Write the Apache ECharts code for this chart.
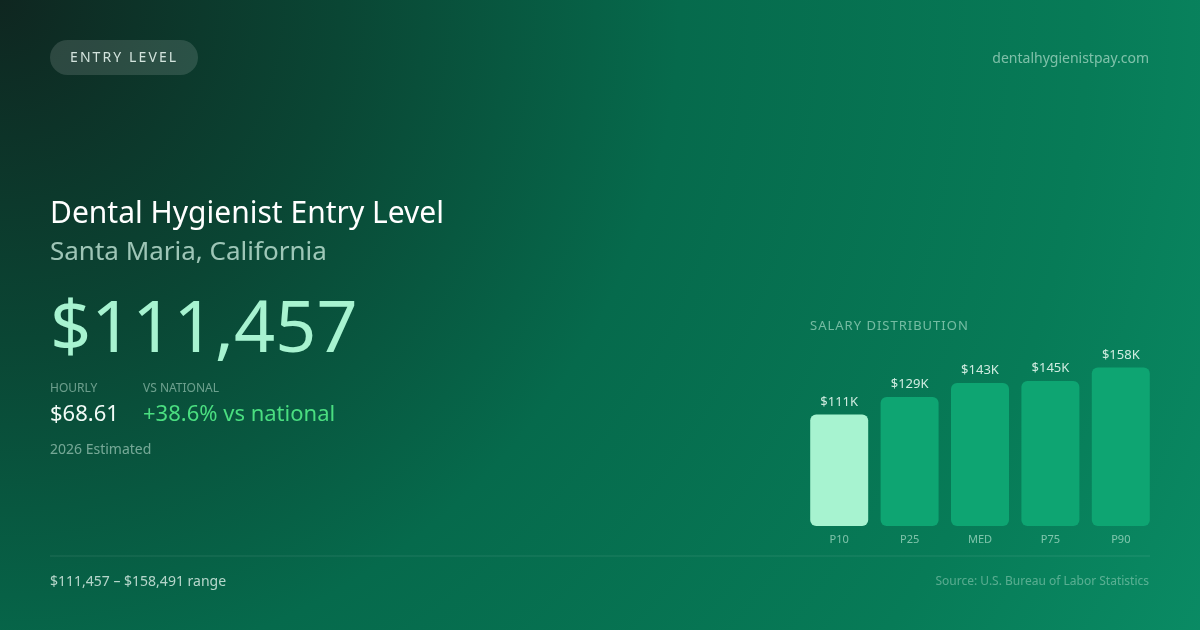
<!DOCTYPE html>
<html>
<head>
<meta charset="utf-8">
<script src="https://cdn.jsdelivr.net/npm/echarts@6/dist/echarts.min.js"></script>
<style>
html,body{margin:0;padding:0;background:#0a4d38;}
#chart{width:1200px;height:630px;}
</style>
</head>
<body>
<div id="chart"></div>
<script>
// ---- data ----
var categories = ['P10', 'P25', 'MED', 'P75', 'P90'];
var salaries = [111457, 129000, 143000, 145000, 158491];
var highlightIndex = 0;

var FONT = '"Noto Sans", "Open Sans", sans-serif';

var measureCtx = document.createElement('canvas').getContext('2d');
function spacedText(str, x, y, size, spacing, color, weight) {
  measureCtx.font = (weight || 'normal') + ' ' + size + 'px ' + FONT;
  var children = [];
  var cx = x;
  for (var i = 0; i < str.length; i++) {
    var ch = str[i];
    children.push({
      type: 'text', x: cx, y: y,
      style: { text: ch, fill: color, font: (weight || 'normal') + ' ' + size + 'px ' + FONT, textVerticalAlign: 'middle', textAlign: 'left' }
    });
    cx += measureCtx.measureText(ch).width + spacing;
  }
  return { type: 'group', children: children };
}
function txt(str, x, y, size, color, align, weight) {
  return {
    type: 'text', x: x, y: y,
    style: { text: str, fill: color, font: (weight || 'normal') + ' ' + size + 'px ' + FONT, textAlign: align || 'left', textVerticalAlign: 'middle' }
  };
}

var chart = echarts.init(document.getElementById('chart'), null, { renderer: 'canvas' });

var option = {
  animation: false,
  backgroundColor: 'transparent',
  grid: { left: 804, right: 44, top: 326, bottom: 104 },
  xAxis: {
    type: 'category',
    data: categories,
    axisLine: { show: false },
    axisTick: { show: false },
    axisLabel: { color: 'rgba(190,235,215,0.65)', fontSize: 11, fontFamily: FONT, margin: 8 }
  },
  yAxis: { type: 'value', min: 0, max: 200000, show: false },
  series: [{
    type: 'bar',
    barWidth: 58,
    data: salaries.map(function (v, i) {
      return { value: v, itemStyle: { color: i === highlightIndex ? '#a7f3d0' : '#0ea572' } };
    }),
    itemStyle: { borderRadius: 6 },
    label: {
      show: true, position: 'top', distance: 6,
      color: 'rgba(230,248,240,0.9)', fontSize: 13, fontFamily: FONT,
      formatter: function (p) { return '$' + Math.round(p.value / 1000) + 'K'; }
    }
  }],
  graphic: [
    {
      type: 'rect', z: -100, silent: true,
      shape: { x: 0, y: 0, width: 1200, height: 630 },
      style: {
        fill: {
          type: 'radial', x: 0, y: 0, r: 1360, global: true,
          colorStops: [
            { offset: 0, color: '#0f2620' },
            { offset: 0.25, color: '#0a4634' },
            { offset: 0.5, color: '#066a4c' },
            { offset: 0.8, color: '#077b57' },
            { offset: 1, color: '#0a8b64' }
          ]
        }
      }
    },
    // badge
    { type: 'rect', shape: { x: 50, y: 40, width: 148, height: 35, r: 17.5 }, style: { fill: 'rgba(255,255,255,0.13)' } },
    spacedText('ENTRY LEVEL', 70, 58.5, 14, 2.1, 'rgba(225,240,233,0.92)'),
    txt('dentalhygienistpay.com', 1149, 59, 14, 'rgba(200,235,220,0.62)', 'right'),
    // titles
    txt('Dental Hygienist Entry Level', 50, 214.5, 30, '#ffffff', 'left'),
    txt('Santa Maria, California', 50, 252.5, 26, 'rgba(200,235,220,0.78)', 'left'),
    txt('$111,457', 50, 331, 72, '#a7f3d0', 'left'),
    txt('HOURLY', 50, 389, 12, 'rgba(190,225,210,0.55)', 'left'),
    txt('VS NATIONAL', 143, 389, 12, 'rgba(190,225,210,0.55)', 'left'),
    txt('$68.61', 50, 414.5, 22, '#f2fbf7', 'left'),
    txt('+38.6% vs national', 143, 414.5, 22, '#4ade80', 'left'),
    txt('2026 Estimated', 50, 450, 14, 'rgba(190,225,210,0.6)', 'left'),
    spacedText('SALARY DISTRIBUTION', 810, 326, 13, 1, 'rgba(190,235,215,0.6)'),
    // footer
    { type: 'line', shape: { x1: 50, y1: 556, x2: 1150, y2: 556 }, style: { stroke: 'rgba(255,255,255,0.1)', lineWidth: 1 } },
    txt('$111,457 \u2013 $158,491 range', 50, 582, 14, 'rgba(225,242,235,0.8)', 'left'),
    txt('Source: U.S. Bureau of Labor Statistics', 1149, 582, 12, 'rgba(200,235,220,0.42)', 'right')
  ]
};
chart.setOption(option);
</script>
</body>
</html>
